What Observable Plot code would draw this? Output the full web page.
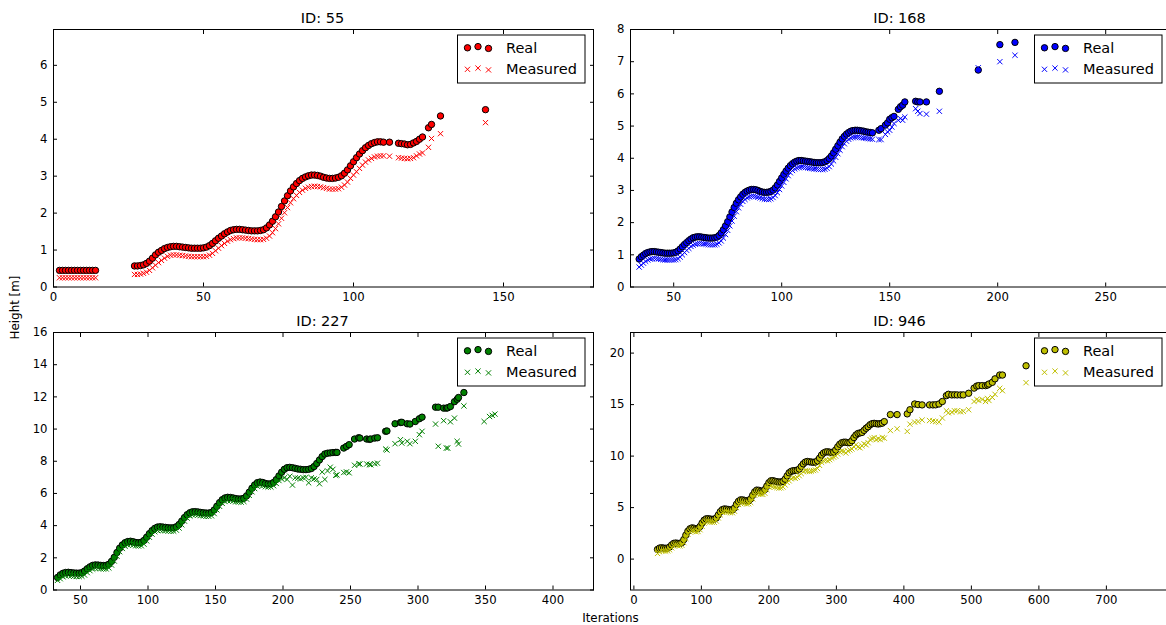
<!DOCTYPE html>
<html>
<head>
<meta charset="utf-8">
<script src="https://cdn.jsdelivr.net/npm/d3@7"></script>
<script src="https://cdn.jsdelivr.net/npm/@observablehq/plot@0.6"></script>
<style>
  html, body { margin: 0; padding: 0; background: #fff; overflow: hidden; }
  #fig { position: relative; width: 1166px; height: 625px; overflow: hidden; font-family: "DejaVu Sans", sans-serif; }
  #fig svg.panel { position: absolute; }
  #overlay { position: absolute; left: 0; top: 0; pointer-events: none; }
</style>
</head>
<body>
<div id="fig"></div>
<script>
// ---------- DATA: rows are [iteration, real height, measured height] ----------
const id55 = [
[2,.45,.25],[3,.45,.25],[4,.45,.25],[5,.45,.25],[6,.45,.25],[7,.45,.25],[8,.45,.25],[9,.45,.25],[10,.45,.25],[11,.45,.25],[12,.45,.25],[13,.45,.25],[14,.45,.25],
[27,.57,.34],[28,.57,.34],[29,.58,.35],[30,.60,.37],[31,.64,.40],[32,.70,.45],[33,.78,.52],[34,.87,.59],[35,.94,.66],[36,.99,.72],[37,1.04,.78],[38,1.07,.83],[39,1.09,.86],[40,1.10,.87],[41,1.10,.87],[42,1.09,.86],[43,1.08,.85],[44,1.07,.84],[45,1.06,.83],[46,1.05,.82],[47,1.05,.82],[48,1.05,.82],[49,1.05,.82],[50,1.06,.82],
[51,1.08,.83],[52,1.12,.86],[53,1.18,.91],[54,1.25,.98],[55,1.32,1.05],[56,1.38,1.12],[57,1.44,1.18],[58,1.49,1.24],[59,1.53,1.28],[60,1.55,1.31],[61,1.56,1.33],[62,1.56,1.33],[63,1.55,1.33],[64,1.54,1.32],[65,1.53,1.31],[66,1.52,1.30],[67,1.52,1.29],[68,1.52,1.28],[69,1.53,1.28],[70,1.55,1.29],
[71,1.60,1.32],[72,1.68,1.38],[73,1.78,1.47],[74,1.90,1.58],[75,2.03,1.71],[76,2.18,1.86],[77,2.33,2.01],[78,2.47,2.15],[79,2.60,2.28],[80,2.71,2.39],[81,2.80,2.48],[82,2.88,2.56],[83,2.94,2.62],[84,2.98,2.67],[85,3.01,2.70],[86,3.03,2.72],[87,3.03,2.73],[88,3.02,2.72],[89,3.00,2.71],[90,2.97,2.69],
[91,2.95,2.67],[92,2.94,2.65],[93,2.94,2.65],[94,2.95,2.65],[95,2.97,2.66],[96,3.01,2.70],[97,3.08,2.76],[98,3.17,2.84],[99,3.28,2.94],[100,3.39,3.03],[101,3.50,3.12],[102,3.60,3.21],[103,3.69,3.30],[104,3.77,3.38],[105,3.83,3.44],[106,3.88,3.48],[107,3.91,3.52],[108,3.93,3.54],[109,3.93,3.55],[110,3.92,3.55],
[112,3.92,3.54],[115,3.89,3.50],[116,3.88,3.49],[117,3.87,3.48],[118,3.85,3.47],[119,3.86,3.48],[120,3.90,3.50],[121,3.94,3.55],[122,4.00,3.60],[123,4.06,3.63],[125,4.31,3.78],[126,4.40,4.02],[129,4.63,4.15],[144,4.80,4.45]
];

const id168 = [
[34,.87,.62],[35,.94,.68],[36,.99,.74],[37,1.04,.80],[38,1.07,.84],[39,1.09,.87],[40,1.10,.88],[41,1.10,.89],[42,1.09,.88],[43,1.08,.87],[44,1.07,.86],[45,1.06,.85],[46,1.05,.84],[47,1.05,.84],[48,1.05,.84],[49,1.05,.84],[50,1.06,.84],
[51,1.08,.85],[52,1.12,.88],[53,1.18,.93],[54,1.25,1.00],[55,1.32,1.07],[56,1.38,1.14],[57,1.44,1.20],[58,1.49,1.26],[59,1.53,1.30],[60,1.55,1.33],[61,1.56,1.34],[62,1.56,1.35],[63,1.55,1.35],[64,1.54,1.34],[65,1.53,1.33],[66,1.52,1.32],[67,1.52,1.31],[68,1.52,1.31],[69,1.53,1.31],[70,1.55,1.33],
[71,1.60,1.37],[72,1.68,1.43],[73,1.78,1.52],[74,1.90,1.63],[75,2.03,1.76],[76,2.18,1.90],[77,2.33,2.05],[78,2.47,2.20],[79,2.60,2.34],[80,2.71,2.46],[81,2.80,2.57],[82,2.88,2.66],[83,2.94,2.72],[84,2.98,2.77],[85,3.01,2.80],[86,3.03,2.82],[87,3.03,2.82],[88,3.02,2.81],[89,3.00,2.79],[90,2.97,2.77],
[91,2.95,2.75],[92,2.94,2.73],[93,2.94,2.72],[94,2.95,2.72],[95,2.97,2.74],[96,3.01,2.78],[97,3.08,2.84],[98,3.17,2.93],[99,3.28,3.03],[100,3.39,3.14],[101,3.50,3.25],[102,3.60,3.36],[103,3.69,3.46],[104,3.77,3.55],[105,3.83,3.62],[106,3.88,3.67],[107,3.91,3.70],[108,3.93,3.72],[109,3.93,3.73],[110,3.92,3.72],
[111,3.91,3.71],[112,3.90,3.70],[113,3.89,3.69],[114,3.88,3.68],[115,3.87,3.67],[116,3.86,3.66],[117,3.86,3.65],[118,3.86,3.65],[119,3.87,3.65],[120,3.89,3.66],[121,3.93,3.69],[122,3.99,3.74],[123,4.07,3.82],[124,4.17,3.92],[125,4.28,4.03],[126,4.39,4.14],[127,4.50,4.25],[128,4.60,4.36],[129,4.68,4.45],[130,4.75,4.53],
[131,4.80,4.59],[132,4.84,4.63],[133,4.86,4.65],[134,4.87,4.66],[135,4.87,4.66],[136,4.86,4.65],[137,4.85,4.64],[138,4.84,4.63],[139,4.82,4.62],[140,4.81,4.61],[141,4.80,4.60],[142,4.79,4.59],
[145,4.87,4.58],[146,4.92,4.58],[148,5.03,4.74],[149,5.10,4.82],[150,5.21,4.87],[151,5.26,4.97],[152,5.30,5.08],[154,5.52,5.18],[155,5.60,5.23],[156,5.65,5.18],[157,5.75,5.28],
[162,5.77,5.54],[163,5.75,5.46],[164,5.75,5.39],[167,5.75,5.37],[173,6.08,5.46],[191,6.74,6.81],[201,7.53,7.00],[208,7.60,7.20]
];

const id227 = [
[33,.78,.60],[35,.94,.70],[37,1.04,.82],[39,1.09,.88],[41,1.10,.90],[43,1.08,.88],[45,1.06,.85],[47,1.05,.84],[49,1.05,.84],[51,1.08,.86],[53,1.18,.93],[55,1.32,1.08],[57,1.44,1.20],[59,1.53,1.30],[61,1.56,1.35],[63,1.55,1.35],[65,1.53,1.32],[67,1.52,1.30],[69,1.53,1.31],
[71,1.60,1.37],[73,1.78,1.55],[75,2.03,1.80],[77,2.33,2.10],[79,2.60,2.38],[81,2.80,2.58],[83,2.94,2.72],[85,3.01,2.80],[87,3.03,2.82],[89,3.00,2.79],[91,2.95,2.75],[93,2.94,2.73],[95,2.97,2.75],[97,3.08,2.85],[99,3.28,3.05],
[101,3.50,3.28],[103,3.69,3.47],[105,3.83,3.62],[107,3.91,3.70],[109,3.93,3.72],[111,3.91,3.70],[113,3.89,3.68],[115,3.87,3.66],[117,3.86,3.65],[119,3.87,3.66],[121,3.93,3.72],[123,4.07,3.85],[125,4.28,4.05],[127,4.50,4.28],[129,4.68,4.47],
[131,4.80,4.60],[133,4.86,4.66],[135,4.87,4.67],[137,4.85,4.65],[139,4.82,4.62],[141,4.80,4.60],[143,4.78,4.58],[145,4.78,4.58],[147,4.82,4.61],[149,4.97,4.75],[151,5.20,4.98],[153,5.43,5.20],[155,5.61,5.38],[157,5.72,5.50],[159,5.76,5.55],
[161,5.75,5.55],[163,5.72,5.52],[165,5.68,5.48],[167,5.66,5.46],[169,5.66,5.46],[171,5.70,5.50],[173,5.85,5.65],[175,6.08,5.88],[177,6.32,6.10],[179,6.53,6.30],[181,6.67,6.45],[183,6.71,6.50],[185,6.68,6.48],[187,6.62,6.42],[189,6.59,6.40],
[191,6.60,6.40],[193,6.68,6.48],[195,6.86,6.62],[197,7.09,6.80],[199,7.32,6.90],[201,7.50,6.97],[203,7.60,6.87],[205,7.62,7.07],[207,7.60,6.52],[209,7.56,6.97],[211,7.52,6.95],[213,7.50,6.90],[215,7.48,6.97],[217,7.48,7.00],[219,7.50,6.66],
[221,7.55,6.97],[223,7.67,6.90],[225,7.86,6.87],[227,8.08,6.60],[229,8.29,7.33],[231,8.45,6.87],[233,8.50,7.40],[235,8.52,7.63],[237,8.54,7.50],[239,8.55,7.13],[240,8.55,7.15],
[245,8.82,7.30],[247,8.92,7.34],[249,9.03,7.28],[253,9.38,7.75],[256,9.46,7.83],[257,9.44,7.83],[262,9.38,7.83],[264,9.36,7.80],[265,9.38,7.78],[268,9.44,7.85],[270,9.46,7.88],
[276,9.86,8.76],[277,9.88,8.70],[283,10.33,9.09],[287,10.41,9.34],[288,10.42,9.13],[292,10.33,9.24],[294,10.31,9.09],[298,10.47,9.24],[301,10.64,9.65],[303,10.74,9.86],
[313,11.36,10.31],[315,11.36,8.93],[319,11.30,10.52],[321,11.30,8.82],[322,11.32,8.82],[324,11.40,10.45],[327,11.70,10.68],[329,11.85,9.24],[330,11.96,9.07],[334,12.27,11.44],
[349,null,10.47],[353,null,10.78],[355,null,10.85],[357,null,10.93]
];

const id946 = [
[35,.94,.55],[38,1.07,.72],[41,1.10,.82],[44,1.07,.80],[47,1.05,.78],[50,1.06,.80],[53,1.18,.90],[56,1.38,1.10],[59,1.53,1.30],[62,1.56,1.35],[65,1.53,1.30],[68,1.52,1.28],
[71,1.60,1.35],[74,1.90,1.60],[77,2.33,2.00],[80,2.71,2.40],[83,2.94,2.65],[86,3.03,2.75],[89,3.00,2.72],[92,2.94,2.65],[95,2.97,2.68],[98,3.17,2.85],
[101,3.50,3.20],[104,3.77,3.50],[107,3.91,3.65],[110,3.92,3.65],[113,3.89,3.60],[116,3.86,3.58],[119,3.87,3.58],[122,3.99,3.70],[125,4.28,4.00],[128,4.60,4.30],
[131,4.80,4.55],[134,4.87,4.60],[137,4.85,4.60],[140,4.81,4.55],[143,4.78,4.50],[146,4.79,4.50],[149,4.97,4.65],[152,5.32,5.00],[155,5.61,5.30],[158,5.75,5.45],
[161,5.75,5.45],[164,5.70,5.40],[167,5.66,5.35],[170,5.67,5.38],[173,5.85,5.50],[176,6.20,5.85],[179,6.53,6.20],[182,6.70,6.35],[185,6.68,6.35],[188,6.60,6.30],
[191,6.60,6.28],[194,6.76,6.40],[197,7.09,6.75],[200,7.42,7.00],[203,7.60,7.10],[206,7.61,7.05],[209,7.56,7.00],[212,7.51,6.95],[215,7.48,6.90],[218,7.49,6.92],
[221,7.55,7.00],[224,7.76,7.20],[227,8.08,7.45],[230,8.38,7.60],[233,8.52,7.80],[236,8.58,7.90],[239,8.60,7.85],[242,8.62,7.95],[245,8.75,8.10],[248,9.00,8.30],
[251,9.25,8.50],[254,9.42,8.60],[257,9.48,8.55],[260,9.45,8.50],[263,9.42,8.55],[266,9.40,8.60],[269,9.42,8.65],[272,9.55,8.80],[275,9.80,9.10],[278,10.10,9.40],
[281,10.30,9.55],[284,10.40,9.60],[287,10.42,9.55],[290,10.38,9.65],[293,10.35,9.80],[296,10.40,9.90],[299,10.60,10.00],[302,10.90,10.20],[305,11.15,10.40],[308,11.30,10.50],
[311,11.35,10.45],[314,11.35,10.30],[317,11.30,10.50],[320,11.32,10.60],[323,11.50,10.70],[326,11.80,10.90],[329,12.05,11.10],[332,12.20,10.90],[335,12.25,10.80],[338,12.30,11.00],
[341,12.50,11.20],[344,12.70,11.10],[347,12.85,11.30],[350,13.05,11.60],[353,13.15,11.70],[356,13.18,11.80],[359,13.15,11.60],[362,13.12,11.70],[365,13.15,11.60],[368,13.20,11.80],[371,13.35,11.74],
[380,14.03,12.48],[390,14.03,12.65],[405,14.10,12.40],[409,14.50,13.10],[416,15.06,13.30],[421,15.00,13.35],[427,14.97,13.50],[438,14.97,13.45],[443,14.97,13.40],[447,14.98,13.35],
[452,15.06,13.30],[457,15.30,13.70],[463,15.87,14.40],[466,16.00,14.20],[471,15.94,14.26],[475,15.95,14.40],[479,15.94,14.40],[484,15.94,14.30],[488,15.94,14.35],[496,16.10,14.50],
[504,16.60,15.30],[508,16.80,15.50],[511,16.84,15.40],[516,16.84,15.50],[521,16.84,15.30],[524,16.90,15.60],[526,17.00,15.40],[531,17.16,15.70],[535,17.50,16.00],[542,17.87,16.58],[546,17.87,16.35],[581,18.77,17.13]
];

// ---------- tick values ----------
const ticksX55 = [0, 50, 100, 150];
const ticksY55 = [0, 1, 2, 3, 4, 5, 6];
const ticksX168 = [50, 100, 150, 200, 250];
const ticksY168 = [0, 1, 2, 3, 4, 5, 6, 7, 8];
const ticksX227 = [50, 100, 150, 200, 250, 300, 350, 400];
const ticksY227 = [0, 2, 4, 6, 8, 10, 12, 14, 16];
const ticksX946 = [0, 100, 200, 300, 400, 500, 600, 700];
const ticksY946 = [0, 5, 10, 15, 20];

const seriesNames = ["Real", "Measured"];
const titles = ["ID: 55", "ID: 168", "ID: 227", "ID: 946"];
const xLabel = "Iterations";
const yLabel = "Height [m]";

// ---------- layout / style ----------
const FONT = '"DejaVu Sans", sans-serif';
const PW = 540, PH = 257.5;            // plot frame size
const ML = 45, MR = 15, MT = 15, MB = 25;
const panels = [
  {title: titles[0], rows: id55,  color: "#ff0000", xDomain: [0, 180],  yDomain: [0, 6.97], xt: ticksX55,  yt: ticksY55,  left: 52.5,  top: 28.5},
  {title: titles[1], rows: id168, color: "#0000ff", xDomain: [30, 280], yDomain: [0, 8],    xt: ticksX168, yt: ticksY168, left: 629.5, top: 28.5},
  {title: titles[2], rows: id227, color: "#008000", xDomain: [30, 430], yDomain: [0, 16],   xt: ticksX227, yt: ticksY227, left: 52.5,  top: 331.5},
  {title: titles[3], rows: id946, color: "#bfbf00", xDomain: [-5, 795], yDomain: [-3, 22],  xt: ticksX946, yt: ticksY946, left: 629.5, top: 331.5}
];

const fig = document.getElementById("fig");

for (const p of panels) {
  const real = p.rows.filter(d => d[1] != null);
  const meas = p.rows.filter(d => d[2] != null);
  const svg = Plot.plot({
    width: PW + ML + MR,
    height: PH + MT + MB,
    marginLeft: ML, marginRight: MR, marginTop: MT, marginBottom: MB,
    x: {domain: p.xDomain},
    y: {domain: p.yDomain},
    style: {fontFamily: FONT, fontSize: "11.7px", color: "#000", background: "transparent", overflow: "visible"},
    marks: [
      Plot.dot(real, {x: d => d[0], y: d => d[1], r: 3.2, symbol: "circle", fill: p.color, stroke: "#000", strokeWidth: 1, clip: true}),
      Plot.dot(meas, {x: d => d[0], y: d => d[2], r: 2.5, symbol: "times", stroke: p.color, strokeWidth: 1, clip: true}),
      Plot.axisX({ticks: p.xt, tickSize: -4, tickPadding: 10, tickFormat: d => `${d}`, label: null}),
      Plot.axisX({anchor: "top", ticks: p.xt, tickSize: -4, tickFormat: () => "", label: null}),
      Plot.axisY({ticks: p.yt, tickSize: -4, tickPadding: 10, tickFormat: d => `${d}`, label: null}),
      Plot.axisY({anchor: "right", ticks: p.yt, tickSize: -4, tickFormat: () => "", label: null}),
      Plot.frame({stroke: "#000", strokeWidth: 1})
    ]
  });
  svg.classList.add("panel");
  svg.style.left = (p.left - ML) + "px";
  svg.style.top = (p.top - MT) + "px";
  fig.appendChild(svg);
}

// ---------- overlay: titles, axis labels, legends ----------
const NS = "http://www.w3.org/2000/svg";
const ov = document.createElementNS(NS, "svg");
ov.setAttribute("id", "overlay");
ov.setAttribute("width", 1166);
ov.setAttribute("height", 625);
ov.style.fontFamily = FONT;
fig.appendChild(ov);

function el(name, attrs, text) {
  const e = document.createElementNS(NS, name);
  for (const k in attrs) e.setAttribute(k, attrs[k]);
  if (text != null) e.textContent = text;
  ov.appendChild(e);
  return e;
}
function cross(cx, cy, s, color) {
  el("path", {d: `M${cx - s},${cy - s}L${cx + s},${cy + s}M${cx - s},${cy + s}L${cx + s},${cy - s}`, stroke: color, "stroke-width": 1, fill: "none"});
}

for (const p of panels) {
  el("text", {x: p.left + PW / 2, y: p.top - 5.5, "text-anchor": "middle", "font-size": "14.5px", fill: "#000"}, p.title);
  const bw = 127.5, bh = 48;
  const bx = p.left + PW - 7.5 - bw, by = p.top + 6.5;
  el("rect", {x: bx, y: by, width: bw, height: bh, fill: "#fff", stroke: "#000", "stroke-width": 1});
  const offs = [[10, 12.8], [20.5, 11.6], [31, 13.4]];
  for (const [dx, dy] of offs) {
    el("circle", {cx: bx + dx, cy: by + dy, r: 3.2, fill: p.color, stroke: "#000", "stroke-width": 1});
    cross(bx + dx, by + dy + 21.5, 2.6, p.color);
  }
  el("text", {x: bx + 48.5, y: by + 17.7, "font-size": "14.5px", fill: "#000"}, seriesNames[0]);
  el("text", {x: bx + 48.5, y: by + 39, "font-size": "14.5px", fill: "#000"}, seriesNames[1]);
}
el("text", {x: 610.5, y: 622, "text-anchor": "middle", "font-size": "11.9px", fill: "#000"}, xLabel);
el("text", {x: 0, y: 0, transform: "translate(18.5,307.5) rotate(-90)", "text-anchor": "middle", "font-size": "11.9px", fill: "#000"}, yLabel);
</script>
</body>
</html>
